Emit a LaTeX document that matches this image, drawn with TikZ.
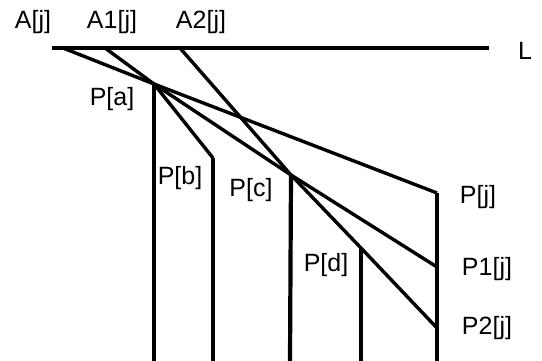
\documentclass[tikz,border=0pt]{standalone}
\usepackage{fontspec}
\setmainfont{Liberation Sans}
\begin{document}
\begin{tikzpicture}[x=1pt,y=-1pt,
  lbl/.style={font=\fontsize{25}{28}\selectfont, inner sep=0pt, anchor=center},
  ray/.style={line width=3.4pt},
  post/.style={line width=4.2pt},
  base/.style={line width=4.4pt}]
\useasboundingbox (0,0) rectangle (542,361);
% points
\coordinate (L0) at (52,48);
\coordinate (L1) at (489,48);
\coordinate (A) at (63,48);
\coordinate (A1) at (105,48);
\coordinate (A2) at (180,48);
\coordinate (Pa) at (154,84);
\coordinate (Pb) at (213,158);
\coordinate (Pc) at (291,175);
\coordinate (Pd) at (361,248);
\coordinate (Pj) at (437,193);
\coordinate (P1) at (437,267);
\coordinate (P2) at (437,328);
\coordinate (Ba) at (154,361);
\coordinate (Bb) at (213,361);
\coordinate (Bc) at (290,361);
\coordinate (Bd) at (361,361);
\coordinate (Bj) at (437,361);
% line L
\draw[base] (L0) -- (L1);
% rays
\draw[ray] (A) -- (Pa) -- (Pj);
\draw[ray] (A1) -- (Pa) -- (Pb);
\draw[ray] (Pa) -- (Pc) -- (P1);
\draw[ray] (A2) -- (Pc) -- (Pd) -- (P2);
% posts
\draw[post] (Pa) -- (Ba);
\draw[post] (Pb) -- (Bb);
\draw[post] (Pc) -- (Bc);
\draw[post] (Pd) -- (Bd);
\draw[post] (Pj) -- (Bj);
% labels
\node[lbl] (tA) at (33,22) {A[j]};
\node[lbl] (tA1) at (112,22) {A1[j]};
\node[lbl] (tA2) at (201,22) {A2[j]};
\node[lbl] (tL) at (525,51) {L};
\node[lbl] (ta) at (112,99) {P[a]};
\node[lbl] (tb) at (180,178) {P[b]};
\node[lbl] (tc) at (251,190) {P[c]};
\node[lbl] (td) at (326,265) {P[d]};
\node[lbl] (tj) at (478,197) {P[j]};
\node[lbl] (t1) at (487,269) {P1[j]};
\node[lbl] (t2) at (487,328) {P2[j]};
\end{tikzpicture}
\end{document}
